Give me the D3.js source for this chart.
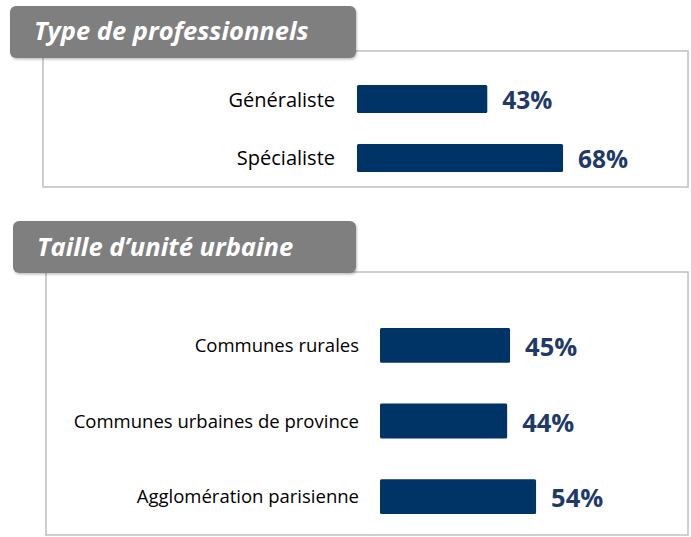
<!DOCTYPE html>
<html>
<head>
<meta charset="utf-8">
<script src="https://cdn.jsdelivr.net/npm/d3@7"></script>
<style>
    body { margin: 0; background: #fff; }
    svg { display: block; font-family: "Open Sans", sans-serif; }
</style>
</head>
<body>
<div id="chart"></div>
<script>
const WIDTH = 691;
const HEIGHT = 537;

// Type de professionnels
const proTitle = "Type de professionnels";
const proCategories = ["Généraliste", "Spécialiste"];
const proValues = [43, 68];

// Taille d'unité urbaine
const urbTitle = "Taille d\u2019unité urbaine";
const urbCategories = ["Communes rurales", "Communes urbaines de province", "Agglomération parisienne"];
const urbValues = [45, 44, 54];

const barColor = "#003366";
const valueColor = "#1f3a68";
const headerColor = "#7f7f7f";
const borderColor = "#bfbfbf";

const svg = d3.select("#chart").append("svg")
    .attr("width", WIDTH)
    .attr("height", HEIGHT);

const defs = svg.append("defs");
const shadow = defs.append("filter").attr("id", "shadow")
    .attr("x", "-5%").attr("y", "-10%").attr("width", "110%").attr("height", "130%");
shadow.append("feDropShadow")
    .attr("dx", 1).attr("dy", 1.5).attr("stdDeviation", 1.2)
    .attr("flood-color", "#000").attr("flood-opacity", 0.25);

function panel(cfg) {
    const g = svg.append("g").attr("class", "panel");

    // box
    g.append("rect")
        .attr("x", cfg.box[0]).attr("y", cfg.box[1])
        .attr("width", cfg.box[2] - cfg.box[0]).attr("height", cfg.box[3] - cfg.box[1])
        .attr("fill", "none")
        .attr("stroke", borderColor)
        .attr("stroke-width", 1.5);

    // header tab
    g.append("rect")
        .attr("x", cfg.tab[0]).attr("y", cfg.tab[1])
        .attr("width", cfg.tab[2] - cfg.tab[0]).attr("height", cfg.tab[3] - cfg.tab[1])
        .attr("rx", 6)
        .attr("fill", headerColor)
        .attr("filter", "url(#shadow)");

    g.append("text")
        .attr("x", cfg.titleX).attr("y", cfg.titleY)
        .attr("fill", "#fff")
        .attr("font-size", cfg.titleSize)
        .attr("font-weight", "bold")
        .attr("font-style", "italic")
        .text(cfg.title);

    const x = d3.scaleLinear()
        .domain([0, 100])
        .range([cfg.x0, cfg.x0 + cfg.pxPer100]);

    const y = d3.scaleBand()
        .domain(cfg.categories)
        .range(cfg.yRange)
        .paddingInner(cfg.padding)
        .paddingOuter(0);

    const data = cfg.categories.map((c, i) => ({key: c, value: cfg.values[i]}));

    g.selectAll(".bar")
        .data(data)
        .enter().append("rect")
            .attr("class", "bar")
            .attr("x", x(0))
            .attr("y", d => y(d.key))
            .attr("width", d => x(d.value) - x(0))
            .attr("height", y.bandwidth())
            .attr("rx", 1.5)
            .attr("fill", barColor);

    g.selectAll(".cat")
        .data(data)
        .enter().append("text")
            .attr("class", "cat")
            .attr("x", cfg.labelX)
            .attr("y", d => y(d.key) + y.bandwidth() / 2 + cfg.labelDy)
            .attr("text-anchor", "end")
            .attr("font-size", cfg.labelSize)
            .attr("fill", "#000")
            .text(d => d.key);

    g.selectAll(".val")
        .data(data)
        .enter().append("text")
            .attr("class", "val")
            .attr("x", d => x(d.value) + cfg.valGap)
            .attr("y", d => y(d.key) + y.bandwidth() / 2 + cfg.valDy)
            .attr("font-size", cfg.valSize)
            .attr("font-weight", "bold")
            .attr("fill", valueColor)
            .text(d => d.value + "%");
}

panel({
    title: proTitle, categories: proCategories, values: proValues,
    box: [43, 51, 688, 187],
    tab: [10, 6, 356, 58],
    titleX: 34, titleY: 40, titleSize: 25.5,
    x0: 357, pxPer100: 303,
    yRange: [85, 172], padding: 0.525,
    labelX: 335, labelSize: 20, labelDy: 7.5,
    valGap: 15, valDy: 10, valSize: 24.5
});

panel({
    title: urbTitle, categories: urbCategories, values: urbValues,
    box: [46, 272, 688, 535],
    tab: [13, 221, 356, 273],
    titleX: 37, titleY: 256, titleSize: 25.5,
    x0: 380, pxPer100: 289,
    yRange: [328, 514], padding: 0.54,
    labelX: 359, labelSize: 18.5, labelDy: 6.5,
    valGap: 15, valDy: 10.5, valSize: 25.5
});
</script>
</body>
</html>
